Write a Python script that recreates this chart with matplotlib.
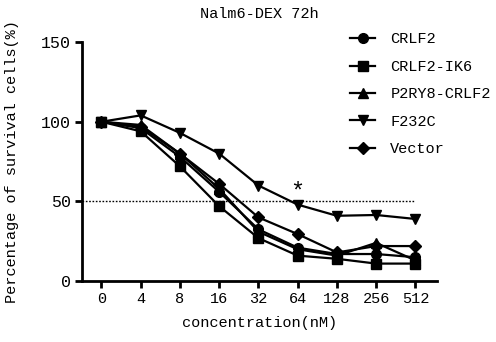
import numpy as np
import matplotlib.pyplot as plt

# ------------------------------------------------------------
# Data
# ------------------------------------------------------------

concentrations = ["0", "4", "8", "16", "32", "64", "128", "256", "512"]

crlf2 = [100, 96, 78, 56, 32.5, 21, 17, 17, 15]
crlf2_ik6 = [100, 94, 72, 47, 27, 16, 14, 11, 11]
p2ry8_crlf2 = [100, 98, 80, 58, 31, 20, 16, 24, 13]
f232c = [100, 104, 93, 80, 60, 48, 41, 41.5, 39]
vector = [100, 97, 80, 61, 40, 29.5, 18, 22, 22]

series = [
    ("CRLF2", crlf2, "o"),
    ("CRLF2-IK6", crlf2_ik6, "s"),
    ("P2RY8-CRLF2", p2ry8_crlf2, "^"),
    ("F232C", f232c, "v"),
    ("Vector", vector, "D"),
]

# ------------------------------------------------------------
# Figure
# ------------------------------------------------------------

plt.rcParams["font.family"] = ["Liberation Mono", "DejaVu Sans Mono"]

fig = plt.figure(figsize=(4.96, 3.42), dpi=100)
ax = fig.add_axes([0.165, 0.178, 0.716, 0.699])

x = np.arange(len(concentrations))

for name, vals, mk in series:
    ax.plot(
        x,
        vals,
        color="black",
        lw=1.6,
        marker=mk,
        markersize=7 if mk != "D" else 6,
        label=name,
    )

# 50% reference line
ax.plot([-0.5, 8], [50, 50], color="black", lw=1.0, ls=(0, (1.2, 1.2)))

# significance mark
ax.text(5, 56, "*", ha="center", va="center", fontsize=17)

ax.set_xlim(-0.5, 8.55)
ax.set_ylim(0, 150)
ax.set_xticks(x)
ax.set_xticklabels(concentrations)
ax.set_yticks([0, 50, 100, 150])

for side in ["top", "right"]:
    ax.spines[side].set_visible(False)
for side in ["left", "bottom"]:
    ax.spines[side].set_linewidth(2)

ax.tick_params(direction="out", length=5, width=2, labelsize=11, pad=3)
ax.tick_params(axis="y", labelsize=12)

ax.set_title("Nalm6-DEX 72h", fontsize=11, pad=17)
ax.set_xlabel("concentration(nM)", fontsize=11, labelpad=7)
ax.set_ylabel("Percentage of survival cells(%)", fontsize=11, labelpad=16)

ax.legend(
    loc="upper left",
    bbox_to_anchor=(0.706, 0.905),
    bbox_transform=fig.transFigure,
    borderpad=0,
    borderaxespad=0,
    frameon=False,
    fontsize=11,
    handlelength=1.63,
    labelspacing=0.88,
    handletextpad=1.0,
)

fig.savefig("out.png", dpi=100)
